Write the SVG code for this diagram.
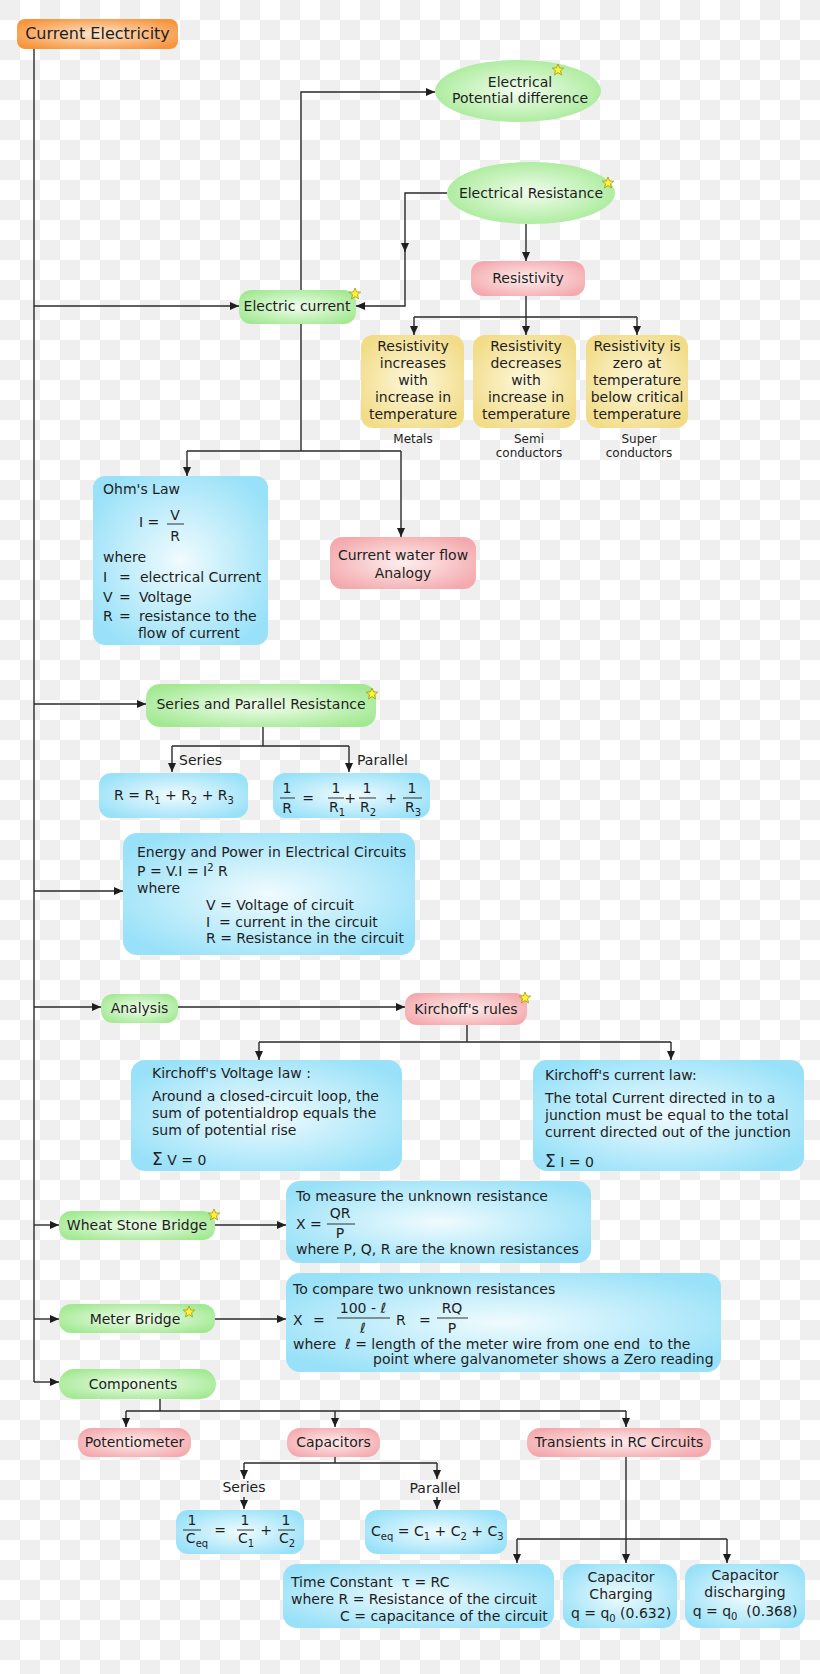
<svg xmlns="http://www.w3.org/2000/svg" width="820" height="1674" viewBox="0 0 820 1674">
<style>
.t{font-family:"DejaVu Sans",Verdana,"Liberation Sans",sans-serif;font-size:14px;fill:#1e1e1e;white-space:pre}
.c{text-anchor:middle}
.s12{font-size:12px}
.s16{font-size:16px}
.ln{stroke:#2a2a2a;stroke-width:1.4;fill:none}
.ar{marker-end:url(#ah)}
.fl{stroke:#333;stroke-width:1}
.star{fill:#fff23a;stroke:#a39400;stroke-width:0.8}
</style>
<defs>
<pattern id="chk" width="40" height="40" patternUnits="userSpaceOnUse">
<rect width="40" height="40" fill="#ffffff"/>
<rect width="20" height="20" fill="#efefef"/>
<rect x="20" y="20" width="20" height="20" fill="#efefef"/>
</pattern>
<marker id="ah" markerWidth="9" markerHeight="8" refX="9" refY="4" orient="auto" markerUnits="userSpaceOnUse">
<path d="M0,0 L9,4 L0,8 z" fill="#1e1e1e"/>
</marker>
<radialGradient id="gO" cx="50%" cy="50%" r="60%"><stop offset="0" stop-color="#fde6cf"/><stop offset="1" stop-color="#f7953c"/></radialGradient>
<radialGradient id="gG" cx="50%" cy="50%" r="60%"><stop offset="0" stop-color="#f2fdee"/><stop offset="1" stop-color="#a2e992"/></radialGradient>
<radialGradient id="gP" cx="50%" cy="50%" r="60%"><stop offset="0" stop-color="#fdeeee"/><stop offset="1" stop-color="#f4a9ad"/></radialGradient>
<radialGradient id="gY" cx="50%" cy="50%" r="60%"><stop offset="0" stop-color="#fdf8dc"/><stop offset="1" stop-color="#f2dc88"/></radialGradient>
<radialGradient id="gB" cx="50%" cy="50%" r="60%"><stop offset="0" stop-color="#f0fbfe"/><stop offset="1" stop-color="#98e1f8"/></radialGradient>
<polygon id="st" class="star" points="0,-6 1.6,-2.1 5.7,-1.9 2.5,0.8 3.5,4.9 0,2.6 -3.5,4.9 -2.5,0.8 -5.7,-1.9 -1.6,-2.1"/>
</defs>
<rect width="820" height="1674" fill="url(#chk)"/>

<g id="connectors">
<path class="ln" d="M34,49 V1382"/>
<path class="ln ar" d="M34,306 H239"/>
<path class="ln ar" d="M34,704 H146"/>
<path class="ln ar" d="M34,891 H123"/>
<path class="ln ar" d="M34,1007 H101"/>
<path class="ln ar" d="M34,1225 H59"/>
<path class="ln ar" d="M34,1319 H59"/>
<path class="ln ar" d="M34,1382 H59"/>
<path class="ln ar" d="M301,290 V92 H435"/>
<path class="ln ar" d="M447,193 H405 V252"/>
<path class="ln ar" d="M405,250 V306 H356"/>
<path class="ln ar" d="M526,224 V261"/>
<path class="ln" d="M526,296 V317 M414,317 H637"/>
<path class="ln ar" d="M414,317 V335"/>
<path class="ln ar" d="M526,317 V335"/>
<path class="ln ar" d="M637,317 V335"/>
<path class="ln" d="M301,324 V451 M187,451 H401"/>
<path class="ln ar" d="M187,451 V476"/>
<path class="ln ar" d="M401,451 V537"/>
<path class="ln" d="M263,727 V746 M172,746 H349"/>
<path class="ln ar" d="M172,746 V772"/>
<path class="ln ar" d="M349,746 V772"/>
<path class="ln ar" d="M178,1007 H405"/>
<path class="ln" d="M467,1025 V1042 M259,1042 H671"/>
<path class="ln ar" d="M259,1042 V1060"/>
<path class="ln ar" d="M671,1042 V1060"/>
<path class="ln ar" d="M215,1225 H286"/>
<path class="ln ar" d="M215,1319 H286"/>
<path class="ln" d="M160,1399 V1411 M126,1411 H626"/>
<path class="ln ar" d="M126,1411 V1427"/>
<path class="ln ar" d="M335,1411 V1427"/>
<path class="ln ar" d="M626,1411 V1427"/>
<path class="ln" d="M335,1457 V1463 M244,1463 H437"/>
<path class="ln ar" d="M244,1463 V1479"/>
<path class="ln ar" d="M437,1463 V1479"/>
<path class="ln ar" d="M244,1497 V1509"/>
<path class="ln ar" d="M437,1497 V1509"/>
<path class="ln ar" d="M626,1457 V1563"/>
<path class="ln" d="M517,1539 H727"/>
<path class="ln ar" d="M517,1539 V1563"/>
<path class="ln ar" d="M727,1539 V1563"/>
</g>

<g id="n-current-electricity">
<rect x="17" y="19" width="161" height="30" rx="8" fill="url(#gO)"/>
<text class="t c s16" x="97.5" y="39">Current Electricity</text>
</g>

<g id="n-potential-difference">
<ellipse cx="518" cy="91" rx="83" ry="31" fill="url(#gG)"/>
<text class="t c" x="520" y="87">Electrical</text>
<text class="t c" x="520" y="103">Potential difference</text>
<use href="#st" x="558" y="70"/>
</g>

<g id="n-electrical-resistance">
<ellipse cx="531" cy="193" rx="84" ry="31" fill="url(#gG)"/>
<text class="t c" x="531" y="198">Electrical Resistance</text>
<use href="#st" x="608" y="183"/>
</g>

<g id="n-resistivity">
<rect x="471" y="261" width="114" height="35" rx="12" fill="url(#gP)"/>
<text class="t c" x="528" y="283">Resistivity</text>
</g>

<g id="n-electric-current">
<rect x="239" y="290" width="117" height="34" rx="12" fill="url(#gG)"/>
<text class="t c" x="297" y="311">Electric current</text>
<use href="#st" x="355" y="294"/>
</g>

<g id="n-metals">
<rect x="361" y="335" width="103" height="93" rx="12" fill="url(#gY)"/>
<text class="t c" x="413" y="351">Resistivity</text>
<text class="t c" x="413" y="368">increases</text>
<text class="t c" x="413" y="385">with</text>
<text class="t c" x="413" y="402">increase in</text>
<text class="t c" x="413" y="419">temperature</text>
<text class="t c s12" x="413" y="443">Metals</text>
</g>

<g id="n-semiconductors">
<rect x="473" y="335" width="103" height="93" rx="12" fill="url(#gY)"/>
<text class="t c" x="526" y="351">Resistivity</text>
<text class="t c" x="526" y="368">decreases</text>
<text class="t c" x="526" y="385">with</text>
<text class="t c" x="526" y="402">increase in</text>
<text class="t c" x="526" y="419">temperature</text>
<text class="t c s12" x="529" y="443">Semi</text>
<text class="t c s12" x="529" y="457">conductors</text>
</g>

<g id="n-superconductors">
<rect x="586" y="335" width="102" height="93" rx="12" fill="url(#gY)"/>
<text class="t c" x="637" y="351">Resistivity is</text>
<text class="t c" x="637" y="368">zero at</text>
<text class="t c" x="637" y="385">temperature</text>
<text class="t c" x="637" y="402">below critical</text>
<text class="t c" x="637" y="419">temperature</text>
<text class="t c s12" x="639" y="443">Super</text>
<text class="t c s12" x="639" y="457">conductors</text>
</g>

<g id="n-ohms-law">
<rect x="93" y="476" width="175" height="169" rx="12" fill="url(#gB)"/>
<text class="t" x="103" y="494">Ohm's Law</text>
<text class="t" x="139" y="527">I =</text>
<text class="t c" x="175" y="520">V</text>
<line class="fl" x1="167" y1="524" x2="184" y2="524"/>
<text class="t c" x="175" y="541">R</text>
<text class="t" x="103" y="562">where</text>
<text class="t" x="103" y="582">I</text><text class="t" x="119" y="582">=</text><text class="t" x="140" y="582">electrical Current</text>
<text class="t" x="103" y="602">V</text><text class="t" x="119" y="602">=</text><text class="t" x="139" y="602">Voltage</text>
<text class="t" x="103" y="621">R</text><text class="t" x="119" y="621">=</text><text class="t" x="139" y="621">resistance to the</text>
<text class="t" x="138" y="638">flow of current</text>
</g>

<g id="n-water-flow">
<rect x="330" y="537" width="146" height="52" rx="12" fill="url(#gP)"/>
<text class="t c" x="403" y="560">Current water flow</text>
<text class="t c" x="403" y="578">Analogy</text>
</g>

<g id="n-series-parallel">
<rect x="146" y="684" width="230" height="43" rx="14" fill="url(#gG)"/>
<text class="t c" x="261" y="709">Series and Parallel Resistance</text>
<use href="#st" x="372" y="694"/>
<text class="t" x="179" y="765">Series</text>
<text class="t" x="357" y="765">Parallel</text>
</g>

<g id="n-series-r">
<rect x="99" y="773" width="149" height="45" rx="12" fill="url(#gB)"/>
<text class="t c" x="174" y="800">R = R<tspan dy="4" font-size="10">1</tspan><tspan dy="-4"> + R</tspan><tspan dy="4" font-size="10">2</tspan><tspan dy="-4"> + R</tspan><tspan dy="4" font-size="10">3</tspan></text>
</g>

<g id="n-parallel-r">
<rect x="273" y="773" width="157" height="45" rx="12" fill="url(#gB)"/>
<text class="t c" x="287" y="793">1</text>
<line class="fl" x1="280" y1="798" x2="295" y2="798"/>
<text class="t c" x="287" y="813">R</text>
<text class="t c" x="308" y="803">=</text>
<text class="t c" x="336" y="793">1</text>
<line class="fl" x1="328" y1="798" x2="344" y2="798"/>
<text class="t c" x="337" y="812">R<tspan dy="4" font-size="10">1</tspan></text>
<text class="t c" x="350" y="803">+</text>
<text class="t c" x="367" y="793">1</text>
<line class="fl" x1="359" y1="798" x2="376" y2="798"/>
<text class="t c" x="368" y="812">R<tspan dy="4" font-size="10">2</tspan></text>
<text class="t c" x="391" y="803">+</text>
<text class="t c" x="412" y="793">1</text>
<line class="fl" x1="403" y1="798" x2="422" y2="798"/>
<text class="t c" x="413" y="812">R<tspan dy="4" font-size="10">3</tspan></text>
</g>

<g id="n-energy-power">
<rect x="123" y="833" width="292" height="122" rx="14" fill="url(#gB)"/>
<text class="t" x="137" y="857">Energy and Power in Electrical Circuits</text>
<text class="t" x="137" y="876">P = V.I = I<tspan dy="-5" font-size="10">2</tspan><tspan dy="5"> R</tspan></text>
<text class="t" x="137" y="893">where</text>
<text class="t" x="206" y="910">V = Voltage of circuit</text>
<text class="t" x="206" y="927" xml:space="preserve">I  = current in the circuit</text>
<text class="t" x="206" y="943">R = Resistance in the circuit</text>
</g>

<g id="n-analysis">
<rect x="101" y="994" width="77" height="29" rx="12" fill="url(#gG)"/>
<text class="t c" x="139.5" y="1013">Analysis</text>
</g>

<g id="n-kirchoff-rules">
<rect x="405" y="993" width="122" height="32" rx="12" fill="url(#gP)"/>
<text class="t c" x="466" y="1014">Kirchoff's rules</text>
<use href="#st" x="525" y="998"/>
</g>

<g id="n-kvl">
<rect x="131" y="1060" width="271" height="111" rx="14" fill="url(#gB)"/>
<text class="t" x="152" y="1078">Kirchoff's Voltage law :</text>
<text class="t" x="152" y="1101">Around a closed-circuit loop, the</text>
<text class="t" x="152" y="1118">sum of potentialdrop equals the</text>
<text class="t" x="152" y="1135">sum of potential rise</text>
<text class="t" x="152" y="1165"><tspan font-size="17">Σ</tspan> V = 0</text>
</g>

<g id="n-kcl">
<rect x="533" y="1060" width="271" height="111" rx="14" fill="url(#gB)"/>
<text class="t" x="545" y="1080">Kirchoff's current law:</text>
<text class="t" x="545" y="1103">The total Current directed in to a</text>
<text class="t" x="545" y="1120">junction must be equal to the total</text>
<text class="t" x="545" y="1137">current directed out of the junction</text>
<text class="t" x="545" y="1167"><tspan font-size="17">Σ</tspan> I = 0</text>
</g>

<g id="n-wheatstone">
<rect x="59" y="1211" width="156" height="29" rx="12" fill="url(#gG)"/>
<text class="t c" x="137" y="1230">Wheat Stone Bridge</text>
<use href="#st" x="214" y="1215"/>
</g>

<g id="n-wheatstone-formula">
<rect x="286" y="1181" width="305" height="82" rx="14" fill="url(#gB)"/>
<text class="t" x="296" y="1201">To measure the unknown resistance</text>
<text class="t" x="296" y="1229">X =</text>
<text class="t c" x="340" y="1218">QR</text>
<line class="fl" x1="327" y1="1224" x2="355" y2="1224"/>
<text class="t c" x="340" y="1238">P</text>
<text class="t" x="296" y="1254">where P, Q, R are the known resistances</text>
</g>

<g id="n-meter-bridge">
<rect x="59" y="1304" width="156" height="29" rx="12" fill="url(#gG)"/>
<text class="t c" x="135" y="1324">Meter Bridge</text>
<use href="#st" x="189" y="1312"/>
</g>

<g id="n-meter-formula">
<rect x="286" y="1273" width="435" height="99" rx="14" fill="url(#gB)"/>
<text class="t" x="293" y="1294">To compare two unknown resistances</text>
<text class="t" x="293" y="1325">X</text>
<text class="t" x="313" y="1325">=</text>
<text class="t c" x="363" y="1313">100 - <tspan font-style="italic">ℓ</tspan></text>
<line class="fl" x1="337" y1="1318" x2="390" y2="1318"/>
<text class="t c" x="363" y="1333" font-style="italic">ℓ</text>
<text class="t" x="396" y="1325">R</text>
<text class="t" x="419" y="1325">=</text>
<text class="t c" x="452" y="1313">RQ</text>
<line class="fl" x1="437" y1="1318" x2="468" y2="1318"/>
<text class="t c" x="452" y="1333">P</text>
<text class="t" x="293" y="1349" xml:space="preserve">where  <tspan font-style="italic">ℓ</tspan> = length of the meter wire from one end  to the</text>
<text class="t" x="373" y="1364">point where galvanometer shows a Zero reading</text>
</g>

<g id="n-components">
<rect x="59" y="1369" width="157" height="30" rx="15" fill="url(#gG)"/>
<text class="t c" x="133" y="1389">Components</text>
</g>

<g id="n-potentiometer">
<rect x="78" y="1428" width="113" height="29" rx="13" fill="url(#gP)"/>
<text class="t c" x="134.5" y="1447">Potentiometer</text>
</g>

<g id="n-capacitors">
<rect x="287" y="1428" width="93" height="29" rx="13" fill="url(#gP)"/>
<text class="t c" x="333.5" y="1447">Capacitors</text>
<text class="t c" x="244" y="1492">Series</text>
<text class="t c" x="435" y="1493">Parallel</text>
</g>

<g id="n-transients">
<rect x="527" y="1428" width="184" height="29" rx="13" fill="url(#gP)"/>
<text class="t c" x="619" y="1447">Transients in RC Circuits</text>
</g>

<g id="n-series-c">
<rect x="176" y="1510" width="128" height="44" rx="12" fill="url(#gB)"/>
<text class="t c" x="192" y="1525">1</text>
<line class="fl" x1="183" y1="1530" x2="201" y2="1530"/>
<text class="t c" x="197" y="1543">C<tspan dy="4" font-size="10">eq</tspan></text>
<text class="t c" x="220" y="1535">=</text>
<text class="t c" x="245" y="1525">1</text>
<line class="fl" x1="237" y1="1530" x2="254" y2="1530"/>
<text class="t c" x="246" y="1543">C<tspan dy="4" font-size="10">1</tspan></text>
<text class="t c" x="266" y="1535">+</text>
<text class="t c" x="286" y="1525">1</text>
<line class="fl" x1="278" y1="1530" x2="295" y2="1530"/>
<text class="t c" x="287" y="1543">C<tspan dy="4" font-size="10">2</tspan></text>
</g>

<g id="n-parallel-c">
<rect x="365" y="1510" width="142" height="44" rx="12" fill="url(#gB)"/>
<text class="t" x="371" y="1536">C<tspan dy="4" font-size="10">eq</tspan><tspan dy="-4"> = C</tspan><tspan dy="4" font-size="10">1</tspan><tspan dy="-4"> + C</tspan><tspan dy="4" font-size="10">2</tspan><tspan dy="-4"> + C</tspan><tspan dy="4" font-size="10">3</tspan></text>
</g>

<g id="n-time-constant">
<rect x="283" y="1564" width="271" height="64" rx="14" fill="url(#gB)"/>
<text class="t" x="291" y="1587" xml:space="preserve">Time Constant  τ = RC</text>
<text class="t" x="291" y="1604">where R = Resistance of the circuit</text>
<text class="t" x="340" y="1621">C = capacitance of the circuit</text>
</g>

<g id="n-charging">
<rect x="563" y="1564" width="114" height="64" rx="14" fill="url(#gB)"/>
<text class="t c" x="621" y="1582">Capacitor</text>
<text class="t c" x="621" y="1599">Charging</text>
<text class="t c" x="621" y="1618">q = q<tspan dy="4" font-size="10">0</tspan><tspan dy="-4"> (0.632)</tspan></text>
</g>

<g id="n-discharging">
<rect x="685" y="1564" width="120" height="64" rx="14" fill="url(#gB)"/>
<text class="t c" x="745" y="1580">Capacitor</text>
<text class="t c" x="745" y="1597">discharging</text>
<text class="t c" x="745" y="1616" xml:space="preserve">q = q<tspan dy="4" font-size="10">0</tspan><tspan dy="-4">  (0.368)</tspan></text>
</g>
</svg>
